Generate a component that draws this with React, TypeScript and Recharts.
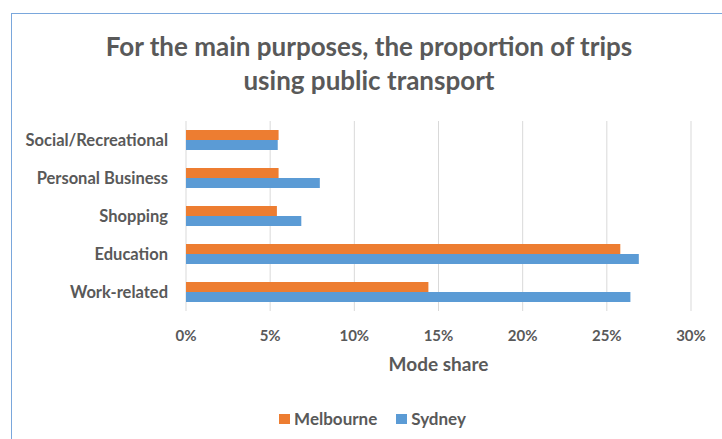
import { Bar, BarChart, CartesianGrid, Label, Legend, XAxis, YAxis } from 'recharts'

const CATEGORIES = ['Social/Recreational', 'Personal Business', 'Shopping', 'Education', 'Work-related']
const MELBOURNE = [0.055, 0.055, 0.054, 0.258, 0.144]
const SYDNEY = [0.0545, 0.0795, 0.0685, 0.269, 0.264]
const X_TICKS = [0, 0.05, 0.1, 0.15, 0.2, 0.25, 0.3]

const data = CATEGORIES.map((name, i) => ({
  name,
  melbourne: MELBOURNE[i],
  sydney: SYDNEY[i],
}))

const FONT = 'Lato, "Open Sans", sans-serif'
const TEXT = '#595959'
const ORANGE = '#ed7d31'
const BLUE = '#5b9bd5'

const legendItems = [
  { label: 'Melbourne', color: ORANGE },
  { label: 'Sydney', color: BLUE },
]

function LegendContent() {
  return (
    <div
      style={{
        display: 'flex',
        justifyContent: 'center',
        gap: 19,
        paddingLeft: 54,
        fontFamily: FONT,
        fontWeight: 700,
        fontSize: 17,
        color: TEXT,
      }}
    >
      {legendItems.map((item) => (
        <div key={item.label} style={{ display: 'flex', alignItems: 'center', gap: 4 }}>
          <span style={{ width: 11, height: 10, background: item.color, display: 'inline-block' }} />
          <span>{item.label}</span>
        </div>
      ))}
    </div>
  )
}

export default function App() {
  return (
    <div style={{ position: 'absolute', left: 0, top: 0, width: 722, height: 439, background: '#fff', overflow: 'hidden' }}>
      <div
        style={{
          position: 'absolute',
          left: 11,
          top: 13,
          width: 722,
          height: 439,
          borderTop: '1px solid #7aa7dc',
          borderLeft: '1px solid #7aa7dc',
        }}
      />
      <div
        style={{
          position: 'absolute',
          left: 11,
          top: 29,
          width: 716,
          textAlign: 'center',
          fontFamily: FONT,
          fontWeight: 700,
          fontSize: 26,
          lineHeight: '34px',
          color: TEXT,
        }}
      >
        For the main purposes, the proportion of trips
        <br />
        using public transport
      </div>
      <div style={{ position: 'absolute', left: 0, top: 0 }}>
        <BarChart
          width={722}
          height={439}
          data={data}
          layout="vertical"
          margin={{ top: 121, right: 31, bottom: 10, left: 0 }}
          barGap={0}
          barCategoryGap={9}
        >
          <CartesianGrid horizontal={false} stroke="#d9d9d9" strokeWidth={1} />
          <XAxis
            type="number"
            domain={[0, 0.3]}
            ticks={X_TICKS}
            tickFormatter={(v: number) => `${Math.round(v * 100)}%`}
            axisLine={false}
            tickLine={false}
            tickMargin={13}
            height={97}
            tick={{ fill: TEXT, fontSize: 15, fontWeight: 700, fontFamily: FONT }}
          >
            <Label
              value="Mode share"
              position="insideTop"
              offset={47}
              fill={TEXT}
              fontSize={19}
              fontWeight={700}
              fontFamily={FONT}
            />
          </XAxis>
          <YAxis
            type="category"
            dataKey="name"
            width={186}
            axisLine={false}
            tickLine={false}
            tickMargin={12}
            tick={{ fill: TEXT, fontSize: 16.5, fontWeight: 700, fontFamily: FONT }}
          />
          <Legend verticalAlign="bottom" content={() => <LegendContent />} />
          <Bar dataKey="melbourne" name="Melbourne" fill={ORANGE} barSize={10} isAnimationActive={false} />
          <Bar dataKey="sydney" name="Sydney" fill={BLUE} barSize={10} isAnimationActive={false} />
        </BarChart>
      </div>
    </div>
  )
}
